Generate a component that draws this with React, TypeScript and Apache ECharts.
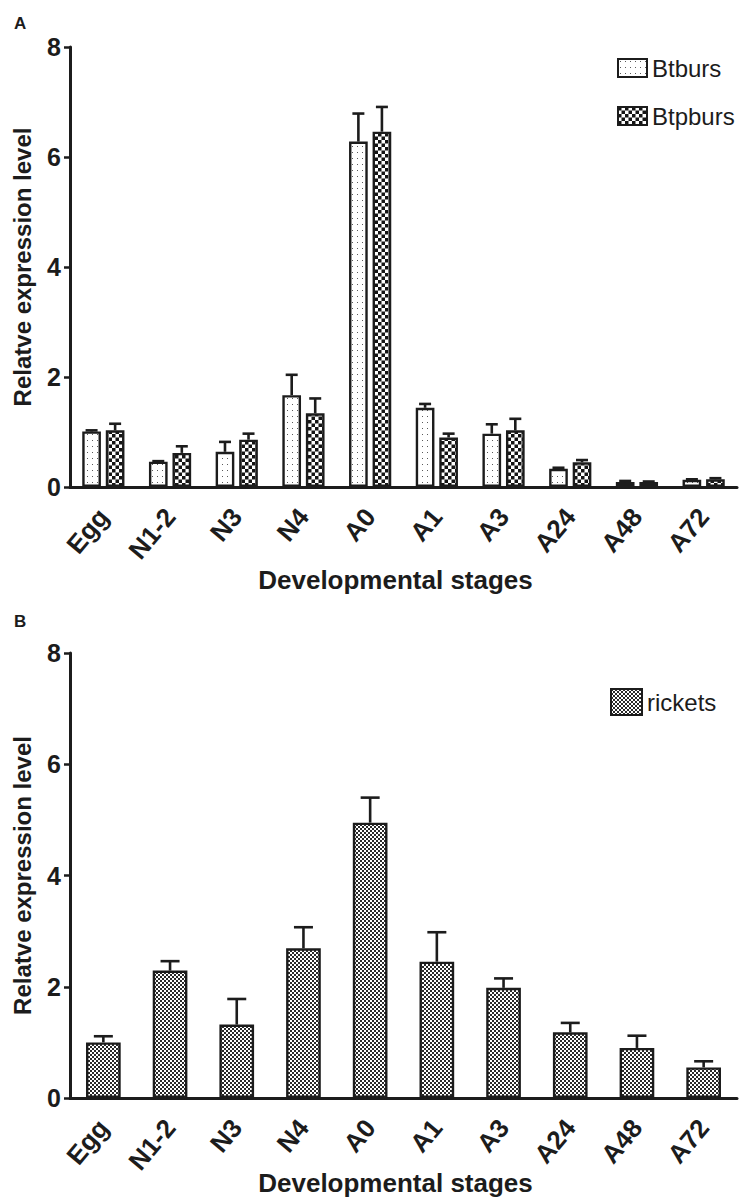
import React, { useEffect, useRef } from 'react';
import * as echarts from 'echarts';

const stages = ['Egg', 'N1-2', 'N3', 'N4', 'A0', 'A1', 'A3', 'A24', 'A48', 'A72'];
const btburs = [1.01, 0.46, 0.64, 1.67, 6.28, 1.44, 0.97, 0.33, 0.09, 0.13];
const btbursErr = [0.02, 0.01, 0.18, 0.37, 0.51, 0.07, 0.17, 0.02, 0.02, 0.01];
const btpburs = [1.03, 0.62, 0.86, 1.34, 6.46, 0.9, 1.03, 0.45, 0.09, 0.14];
const btpbursErr = [0.12, 0.12, 0.11, 0.27, 0.45, 0.07, 0.21, 0.04, 0.01, 0.02];
const rickets = [1.0, 2.29, 1.32, 2.69, 4.95, 2.45, 1.98, 1.18, 0.9, 0.55];
const ricketsErr = [0.11, 0.17, 0.46, 0.38, 0.45, 0.53, 0.17, 0.17, 0.22, 0.11];
const yMin = 0;
const yMax = 8;
const yStep = 2;

const INK = '#1c1c1c';
const FONT = "'Liberation Sans', Arial, sans-serif";

function makeCanvas(w: number, h: number, draw: (ctx: CanvasRenderingContext2D) => void) {
  const c = document.createElement('canvas');
  c.width = w;
  c.height = h;
  const ctx = c.getContext('2d')!;
  ctx.fillStyle = '#ffffff';
  ctx.fillRect(0, 0, w, h);
  draw(ctx);
  return c;
}

function App() {
  const ref = useRef<HTMLDivElement>(null);
  useEffect(() => {
    if (!ref.current) return;
    const chart = echarts.init(ref.current, null, { renderer: 'svg' });

    const dotCanvas = makeCanvas(5, 6, (ctx) => {
      ctx.fillStyle = '#5a5a5a';
      ctx.fillRect(2, 2, 1, 1);
    });
    const checkCanvas = makeCanvas(7, 7, (ctx) => {
      ctx.fillStyle = '#151515';
      ctx.fillRect(0, 0, 3.5, 3.5);
      ctx.fillRect(3.5, 3.5, 3.5, 3.5);
    });
    const fineCanvas = makeCanvas(4, 4, (ctx) => {
      ctx.fillStyle = '#2a2a2a';
      ctx.fillRect(0, 0, 2, 2);
      ctx.fillRect(2, 2, 2, 2);
    });
    const pat = (c: HTMLCanvasElement) => ({ image: c, repeat: 'repeat', imageWidth: c.width, imageHeight: c.height });

    const barWA = 0.28;
    const gapA = 0.26;
    const offA = (barWA + barWA * gapA) / 2;

    const errRender = (offFrac: number, capW: number) => (params: any, api: any) => {
      const i = api.value(0);
      const v = api.value(1);
      const e = api.value(2);
      const band = api.size([1, 0])[0];
      const p0 = api.coord([i, v]);
      const p1 = api.coord([i, v + e]);
      const x = p0[0] + offFrac * band;
      const st = { stroke: INK, lineWidth: 2.6 };
      return {
        type: 'group',
        children: [
          { type: 'line', shape: { x1: x, y1: p0[1], x2: x, y2: p1[1] }, style: st },
          { type: 'line', shape: { x1: x - capW / 2, y1: p1[1], x2: x + capW / 2, y2: p1[1] }, style: st },
        ],
      };
    };

    const errData = (vals: number[], errs: number[]) => vals.map((v, i) => [i, v, errs[i]]);

    const xAxisBase = (gridIndex: number) => ({
      type: 'category',
      gridIndex,
      data: stages,
      name: 'Developmental stages',
      nameLocation: 'middle',
      nameGap: gridIndex === 0 ? 80 : 72,
      nameMoveOverlap: false,
      nameTextStyle: { fontFamily: FONT, fontWeight: 'bold', fontSize: 26, color: INK, padding: [0, 16, 0, 0] },
      axisLine: { lineStyle: { color: INK, width: 3 } },
      axisTick: { alignWithLabel: true, length: 8, lineStyle: { color: INK, width: 2.5 } },
      axisLabel: {
        rotate: 50,
        margin: 25,
        padding: [20, 0, 0, 0],
        fontFamily: FONT,
        fontWeight: 'bold',
        fontSize: 26,
        color: INK,
        interval: 0,
      },
      splitLine: { show: false },
    });

    const yAxisBase = (gridIndex: number) => ({
      type: 'value',
      gridIndex,
      min: yMin,
      max: yMax,
      interval: yStep,
      name: 'Relatve expression level',
      nameLocation: 'middle',
      nameGap: 36,
      nameMoveOverlap: false,
      nameTextStyle: { fontFamily: FONT, fontWeight: 'bold', fontSize: 24, color: INK },
      axisLine: { show: true, lineStyle: { color: INK, width: 3 } },
      axisTick: { show: true, length: 6, lineStyle: { color: INK, width: 2.5 } },
      axisLabel: { margin: 9, fontFamily: FONT, fontWeight: 'bold', fontSize: 25, color: INK },
      splitLine: { show: false },
    });

    const option: any = {
      animation: false,
      backgroundColor: '#ffffff',
      title: [
        { text: 'A', left: 9, top: 10, textStyle: { fontFamily: FONT, fontWeight: 'bold', fontSize: 17, color: INK } },
        { text: 'B', left: 9, top: 608, textStyle: { fontFamily: FONT, fontWeight: 'bold', fontSize: 17, color: INK } },
      ],
      legend: [
        {
          orient: 'vertical',
          left: 612,
          top: 51,
          itemWidth: 29,
          itemHeight: 18,
          itemGap: 24,
          itemTextGap: 18,
          icon: 'rect',
          data: ['Btburs', 'Btpburs'],
          textStyle: { fontFamily: FONT, fontSize: 24, color: INK },
        },
        {
          orient: 'vertical',
          left: 605,
          top: 683,
          itemWidth: 31,
          itemHeight: 26,
          itemTextGap: 16,
          icon: 'rect',
          data: ['rickets'],
          textStyle: { fontFamily: FONT, fontSize: 24, color: INK },
        },
      ],
      grid: [
        { left: 70, right: 8, top: 47, height: 440, containLabel: false, outerBoundsMode: 'none' },
        { left: 70, right: 8, top: 653, height: 445, containLabel: false, outerBoundsMode: 'none' },
      ],
      xAxis: [xAxisBase(0), xAxisBase(1)],
      yAxis: [yAxisBase(0), yAxisBase(1)],
      series: [
        {
          name: 'Btburs',
          type: 'bar',
          xAxisIndex: 0,
          yAxisIndex: 0,
          data: btburs,
          barWidth: barWA * 100 + '%',
          barGap: gapA * 100 + '%',
          itemStyle: { color: pat(dotCanvas), borderColor: INK, borderWidth: 2.4 },
        },
        {
          name: 'Btpburs',
          type: 'bar',
          xAxisIndex: 0,
          yAxisIndex: 0,
          data: btpburs,
          barWidth: barWA * 100 + '%',
          barGap: gapA * 100 + '%',
          itemStyle: { color: pat(checkCanvas), borderColor: INK, borderWidth: 2.4 },
        },
        {
          name: 'rickets',
          type: 'bar',
          xAxisIndex: 1,
          yAxisIndex: 1,
          data: rickets,
          barWidth: '52%',
          itemStyle: { color: pat(fineCanvas), borderColor: INK, borderWidth: 2.4 },
        },
        {
          name: 'errBtburs',
          type: 'custom',
          xAxisIndex: 0,
          yAxisIndex: 0,
          data: errData(btburs, btbursErr),
          renderItem: errRender(-offA, 12),
          z: 3,
        },
        {
          name: 'errBtpburs',
          type: 'custom',
          xAxisIndex: 0,
          yAxisIndex: 0,
          data: errData(btpburs, btpbursErr),
          renderItem: errRender(offA, 12),
          z: 3,
        },
        {
          name: 'errRickets',
          type: 'custom',
          xAxisIndex: 1,
          yAxisIndex: 1,
          data: errData(rickets, ricketsErr),
          renderItem: errRender(0, 19),
          z: 3,
        },
      ],
    };
    chart.setOption(option);
    return () => chart.dispose();
  }, []);
  return (
    <div
      ref={ref}
      style={{ position: 'absolute', left: 0, top: 0, width: 745, height: 1200, background: '#fff' }}
    />
  );
}

export default App;
